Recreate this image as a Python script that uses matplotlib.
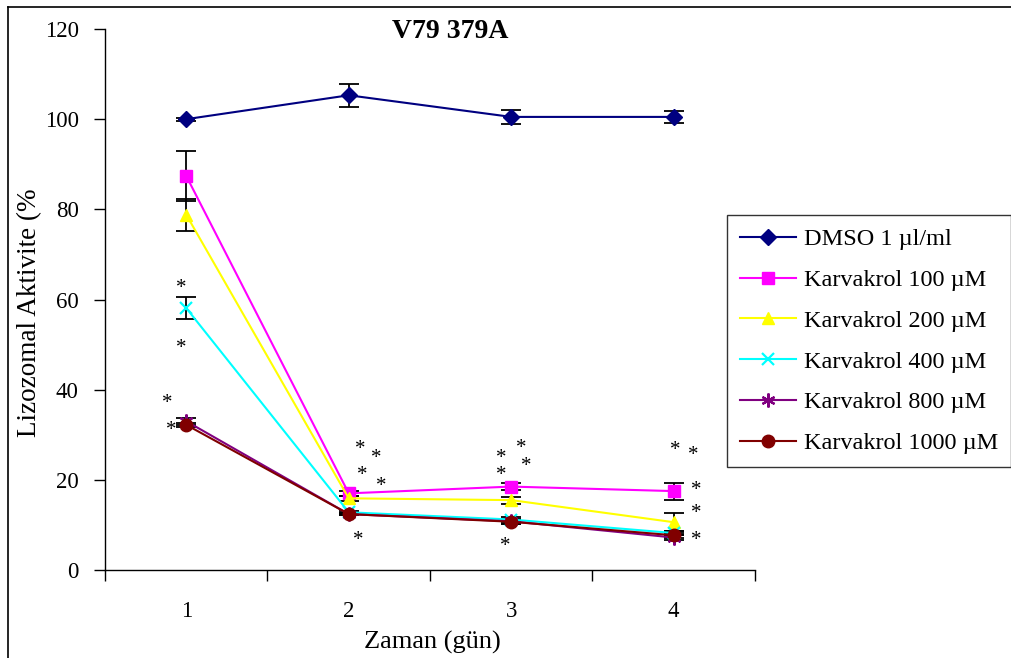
import matplotlib
matplotlib.use("Agg")
import matplotlib.pyplot as plt
from matplotlib.lines import Line2D
from matplotlib.transforms import ScaledTranslation

plt.rcParams['font.family'] = ['Liberation Serif', 'DejaVu Serif']

days = [1, 2, 3, 4]
series_labels = ["DMSO 1 µl/ml", "Karvakrol 100 µM", "Karvakrol 200 µM",
                 "Karvakrol 400 µM", "Karvakrol 800 µM", "Karvakrol 1000 µM"]

dmso = [100.0, 105.3, 100.5, 100.5]
k100 = [87.4, 17.0, 18.5, 17.5]
k200 = [78.8, 15.9, 15.5, 10.6]
k400 = [58.1, 12.8, 11.2, 8.2]
k800 = [33.0, 12.4, 10.8, 7.2]
k1000 = [32.2, 12.4, 10.7, 7.7]

dmso_err = [0.3, 2.5, 1.5, 1.3]
k100_err = [5.5, 0.5, 0.8, 1.9]
k200_err = [3.6, 0.5, 0.8, 2.0]
k400_err = [2.4, 0.3, 0.5, 0.5]
k800_err = [0.8, 0.3, 0.5, 0.5]
k1000_err = [0.5, 0.3, 0.5, 0.5]

# significance marks (day position, value)
star_x = [0.97, 0.97, 0.88, 0.91,
          2.07, 2.17, 2.08, 2.20, 2.06,
          2.94, 3.06, 3.09, 2.94, 2.96,
          4.01, 4.12, 4.14, 4.14, 4.14]
star_y = [63.2, 49.9, 37.7, 31.7,
          27.3, 25.5, 21.7, 19.1, 7.1,
          25.5, 27.7, 23.7, 21.7, 5.8,
          27.1, 26.0, 18.4, 13.1, 7.1]

series = [dmso, k100, k200, k400, k800, k1000]
errors = [dmso_err, k100_err, k200_err, k400_err, k800_err, k1000_err]
colors = ["#000080", "#FF00FF", "#FFFF00", "#00FFFF", "#800080", "#800000"]
markers = ["D", "s", "^", "x", (6, 2, 0), "o"]
msizes = [8.5, 8, 9, 9, 10, 9]

fig = plt.figure(figsize=(10.12, 6.58), dpi=100)
ax = fig.add_axes([105 / 1012, 88 / 658, 650 / 1012, 541 / 658])

# error bars drawn first, then the lines with markers on top
for vals, err in zip(series, errors):
    ax.errorbar(days, vals, yerr=err, fmt="none", ecolor="black",
                elinewidth=1.3, capsize=7, capthick=1.3, zorder=2)

handles = []
for vals, col, mk, ms, lab in zip(series, colors, markers, msizes, series_labels):
    mew = 1.6 if mk in ("x", (6, 2, 0)) else 1.0
    h, = ax.plot(days, vals, color=col, lw=1.5, marker=mk, markersize=ms,
                 markerfacecolor=col, markeredgecolor=col, markeredgewidth=mew,
                 label=lab, zorder=3)
    handles.append(h)

# the asterisk glyph sits high in its line box; nudge it down a little
star_tf = ax.transData + ScaledTranslation(0, -3 / 100, fig.dpi_scale_trans)
for sx, sy in zip(star_x, star_y):
    ax.text(sx, sy, "*", fontsize=15, ha="center", va="center", color="black",
            zorder=4, transform=star_tf)

ax.set_xlim(0.5, 4.5)
ax.set_ylim(0, 120)
ax.set_yticks(range(0, 121, 20))
ax.set_xticks([0.5, 1.5, 2.5, 3.5, 4.5])
ax.set_xticklabels([])
ax.set_xticks(days, minor=True)
ax.set_xticklabels([str(d) for d in days], minor=True)
ax.tick_params(axis="x", which="major", direction="out", length=8, width=1)
ax.tick_params(axis="x", which="minor", length=0, pad=22, labelsize=16.5)
ax.tick_params(axis="y", direction="out", length=8, width=1, labelsize=16.5, pad=11)
for s in ("top", "right"):
    ax.spines[s].set_visible(False)
for s in ("left", "bottom"):
    ax.spines[s].set_linewidth(1.0)

fig.text(30 / 1012, 1 - 313 / 658, "Lizozomal Aktivite (%", fontsize=19.5,
         rotation=90, ha="center", va="center")
fig.text(432 / 1012, 1 - 642 / 658, "Zaman (gün)", fontsize=19,
         ha="center", va="center")
fig.text(450 / 1012, 1 - 31 / 658, "V79 379A", fontsize=20, fontweight="bold",
         ha="center", va="center")

leg = fig.legend(handles=handles, loc="upper left",
                 bbox_to_anchor=(727 / 1012, 1 - 215 / 658), fontsize=17.5,
                 frameon=True, fancybox=False, edgecolor="black",
                 handlelength=2.3, labelspacing=0.77, borderpad=0.55,
                 handletextpad=0.3, borderaxespad=0)
leg.get_frame().set_linewidth(1.0)

# outer frame of the chart area (left and top edges)
fig.add_artist(Line2D([8 / 1012, 8 / 1012], [0, 1 - 7 / 658], color="black",
                      lw=1.2, transform=fig.transFigure))
fig.add_artist(Line2D([8 / 1012, 1], [1 - 7 / 658, 1 - 7 / 658], color="black",
                      lw=1.2, transform=fig.transFigure))

fig.savefig("out.png", dpi=100)
